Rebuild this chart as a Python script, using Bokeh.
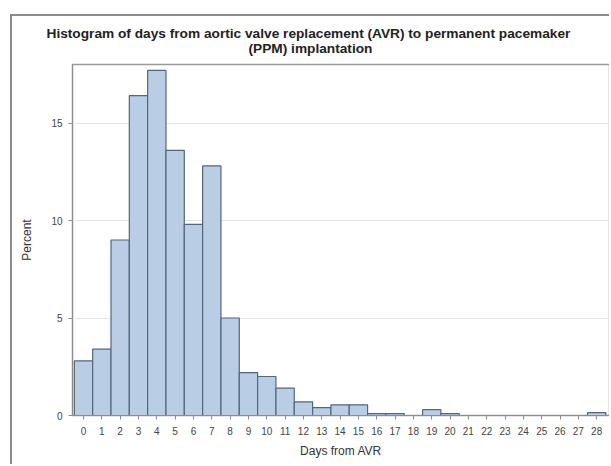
from bokeh.plotting import figure
from bokeh.models import Title, FixedTicker
from bokeh.embed import file_html
from bokeh.resources import INLINE

# Days from AVR to PPM implantation, percent of patients per day
days = list(range(29))
percent = [2.8, 3.4, 9.0, 16.4, 17.7, 13.6, 9.8, 12.8, 5.0, 2.2,
           2.0, 1.4, 0.7, 0.4, 0.55, 0.55, 0.1, 0.1, 0.0, 0.3,
           0.1, 0.0, 0.0, 0.0, 0.0, 0.0, 0.0, 0.0, 0.15]
y_ticks = [0, 5, 10, 15]

title_lines = ["Histogram of days from  aortic valve replacement (AVR) to permanent pacemaker",
               "(PPM) implantation"]

FONT = "Liberation Sans"

p = figure(width=599, height=450, output_backend="svg", toolbar_location=None,
           x_range=(-0.6, 28.7), y_range=(0, 18),
           min_border_left=60, min_border_right=2, min_border_top=48, min_border_bottom=51,
           margin=(14, 0, 0, 10),
           styles={"border-left": "2px solid #8c8c8c", "border-top": "2px solid #8c8c8c"})

p.quad(left=[d - 0.5 for d in days], right=[d + 0.5 for d in days],
       bottom=0, top=percent,
       fill_color="#b9cde5", line_color="#56657a", line_width=1.2)

p.outline_line_color = "#9a9a9a"
p.outline_line_width = 1.5

p.xgrid.visible = False
p.ygrid.ticker = FixedTicker(ticks=[5, 10, 15])
p.ygrid.grid_line_color = "#e4e4e4"

p.xaxis.ticker = FixedTicker(ticks=days)
p.yaxis.ticker = FixedTicker(ticks=y_ticks)
for ax in (p.xaxis, p.yaxis):
    ax.axis_line_color = "#8c8c8c"
    ax.major_tick_line_color = "#8c8c8c"
    ax.major_tick_in = 0
    ax.major_tick_out = 4
    ax.minor_tick_line_color = None
    ax.major_label_text_font = FONT
    ax.major_label_text_font_size = "10px"
    ax.major_label_text_color = "#444444"
    ax.axis_label_text_font = FONT
    ax.axis_label_text_font_size = "12px"
    ax.axis_label_text_font_style = "normal"
    ax.axis_label_text_color = "#333333"

p.xaxis.axis_label = "Days from AVR"
p.yaxis.axis_label = "Percent"
p.xaxis.major_label_standoff = 7
p.yaxis.major_label_standoff = 6
p.xaxis.axis_label_standoff = 6
p.yaxis.axis_label_standoff = 14

# two-line title, placed line by line above the frame
p.add_layout(Title(text=title_lines[1], align="left", offset=176, standoff=18,
                   text_font=FONT, text_font_size="13.7px", text_font_style="bold",
                   text_color="#222222"), "above")
p.add_layout(Title(text=title_lines[0], align="left", offset=-26, standoff=-22,
                   text_font=FONT, text_font_size="13.7px", text_font_style="bold",
                   text_color="#222222"), "above")

open("out.html", "w").write(file_html(p, INLINE))
